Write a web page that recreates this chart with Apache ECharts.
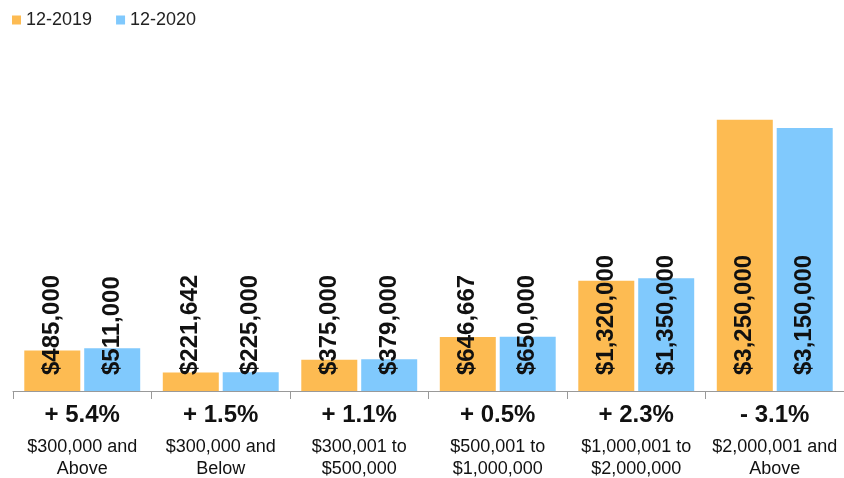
<!DOCTYPE html>
<html>
<head>
<meta charset="utf-8">
<script src="https://cdn.jsdelivr.net/npm/echarts@6/dist/echarts.min.js"></script>
<style>
  html, body { margin: 0; padding: 0; background: #fff; }
  #chart { width: 844px; height: 478px; }
</style>
</head>
<body>
<div id="chart"></div>
<script>
// 价格区间
const categories = [
  '$300,000 and\nAbove',
  '$300,000 and\nBelow',
  '$300,001 to\n$500,000',
  '$500,001 to\n$1,000,000',
  '$1,000,001 to\n$2,000,000',
  '$2,000,001 and\nAbove'
]
// 同比变化
const changes = ['+ 5.4%', '+ 1.5%', '+ 1.1%', '+ 0.5%', '+ 2.3%', '- 3.1%']
const seriesNames = ['12-2019', '12-2020']
const values2019 = [485000, 221642, 375000, 646667, 1320000, 3250000]
const values2020 = [511000, 225000, 379000, 650000, 1350000, 3150000]

const chartDom = document.getElementById('chart')
const myChart = echarts.init(chartDom)

const fontFamily = '"Liberation Sans", Arial, Helvetica, sans-serif'

function barLabel() {
  return {
    show: true,
    position: 'insideBottom',
    distance: 16,
    rotate: 90,
    align: 'left',
    verticalAlign: 'middle',
    color: '#111',
    fontFamily: fontFamily,
    fontWeight: 'bold',
    fontSize: 24,
    formatter: p => '$' + p.value.toLocaleString('en-US')
  }
}

const option = {
  animation: false,
  textStyle: { fontFamily: fontFamily },
  color: ['#FDBB52', '#80C9FD'],
  legend: {
    data: seriesNames,
    left: 7,
    top: 6,
    icon: 'rect',
    itemWidth: 9,
    itemHeight: 9,
    itemGap: 24,
    textStyle: { fontSize: 18, color: '#222', fontFamily: fontFamily }
  },
  grid: {
    left: 13,
    top: 57,
    width: 836,
    height: 336,
    containLabel: false
  },
  xAxis: {
    type: 'category',
    data: categories,
    boundaryGap: true,
    axisLine: { lineStyle: { color: '#999', width: 1 } },
    axisTick: { show: true, length: 8, alignWithLabel: false, lineStyle: { color: '#999' } },
    axisLabel: {
      interval: 0,
      margin: 3,
      formatter: (val, idx) => {
        const lines = val.split('\n').map(s => '{n|' + s + '}').join('\n')
        return '{p|' + changes[idx] + '}\n' + lines
      },
      rich: {
        p: { fontSize: 24, fontWeight: 'bold', color: '#111', lineHeight: 42, fontFamily: fontFamily },
        n: { fontSize: 18, color: '#111', lineHeight: 22, fontFamily: fontFamily }
      }
    }
  },
  yAxis: {
    type: 'value',
    min: 0,
    max: 4000000,
    show: false,
    splitLine: { show: false }
  },
  series: [
    {
      name: seriesNames[0],
      type: 'bar',
      data: values2019,
      barWidth: 56,
      barGap: '7%',
      label: barLabel()
    },
    {
      name: seriesNames[1],
      type: 'bar',
      data: values2020,
      barWidth: 56,
      barGap: '7%',
      label: barLabel()
    }
  ]
}
option && myChart.setOption(option, true)
</script>
</body>
</html>
